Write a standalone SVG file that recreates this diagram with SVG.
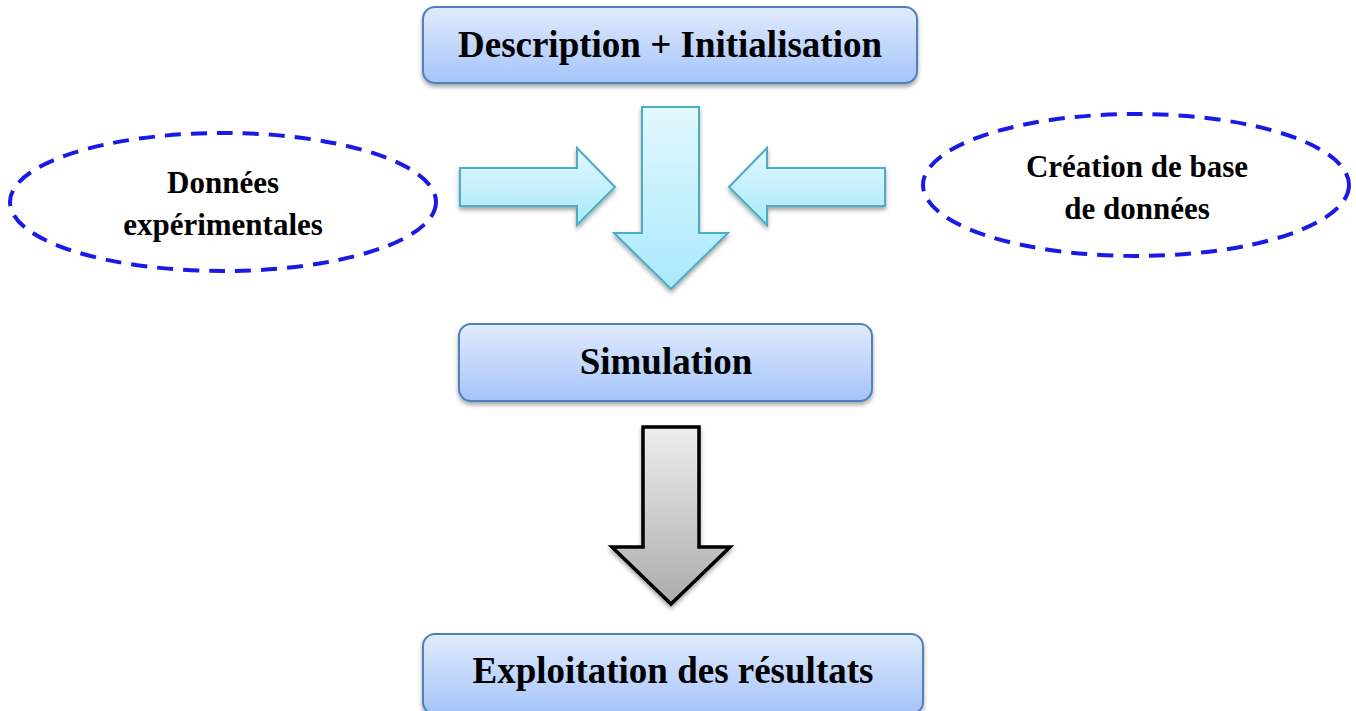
<svg xmlns="http://www.w3.org/2000/svg" width="1356" height="711" viewBox="0 0 1356 711">
<defs>
<linearGradient id="boxg" x1="0" y1="0" x2="0" y2="1">
<stop offset="0" stop-color="#e1ebfd"/>
<stop offset="1" stop-color="#a5c4fa"/>
</linearGradient>
<linearGradient id="cyang" x1="0" y1="0" x2="0" y2="1">
<stop offset="0" stop-color="#e2f8fe"/>
<stop offset="1" stop-color="#a9e9fc"/>
</linearGradient>
<linearGradient id="grayg" x1="0" y1="0" x2="0" y2="1">
<stop offset="0" stop-color="#eeeeee"/>
<stop offset="1" stop-color="#acacac"/>
</linearGradient>
<filter id="sh" x="-10%" y="-10%" width="120%" height="130%">
<feDropShadow dx="0" dy="3" stdDeviation="2" flood-color="#000" flood-opacity="0.35"/>
</filter>
</defs>
<style>
.box{fill:url(#boxg);stroke:#4f81bd;stroke-width:2;filter:url(#sh)}
.carrow{fill:url(#cyang);stroke:#4bacc6;stroke-width:2;filter:url(#sh)}
.garrow{fill:url(#grayg);stroke:#000;stroke-width:3.5;filter:url(#sh)}
.ell{fill:none;stroke:#1a1ae6;stroke-width:4;stroke-dasharray:16 10}
.t{font-family:"Liberation Serif","Times New Roman",serif;font-weight:bold;fill:#000;text-anchor:middle}
.big{font-size:37px}
.small{font-size:31px}
</style>
<g id="connectors">
<polygon class="carrow" points="460,168 577,168 577,148 615,187 577,225 577,206 460,206"/>
<polygon class="carrow" points="885,168 767,168 767,148 729,187 767,225 767,206 885,206"/>
<polygon class="carrow" points="642,107 699,107 699,233 728,233 671,289 614,233 642,233"/>
<polygon class="garrow" points="643,427 699,427 699,547 730,547 671,604 612,547 643,547"/>
</g>
<g id="node-description">
<rect class="box" x="423" y="7" width="494" height="76" rx="12"/>
<text class="t big" x="670" y="57">Description + Initialisation</text>
</g>
<g id="node-donnees">
<ellipse class="ell" cx="223" cy="202" rx="213" ry="69"/>
<text class="t small" x="223" y="193">Données</text>
<text class="t small" x="223" y="235">expérimentales</text>
</g>
<g id="node-creation">
<ellipse class="ell" cx="1136" cy="185" rx="213" ry="71"/>
<text class="t small" x="1137" y="177">Création de base</text>
<text class="t small" x="1137" y="219">de données</text>
</g>
<g id="node-simulation">
<rect class="box" x="459" y="324" width="413" height="77" rx="12"/>
<text class="t big" x="666" y="374">Simulation</text>
</g>
<g id="node-exploitation">
<rect class="box" x="423" y="634" width="500" height="80" rx="12"/>
<text class="t big" x="673" y="683">Exploitation des résultats</text>
</g>
</svg>
